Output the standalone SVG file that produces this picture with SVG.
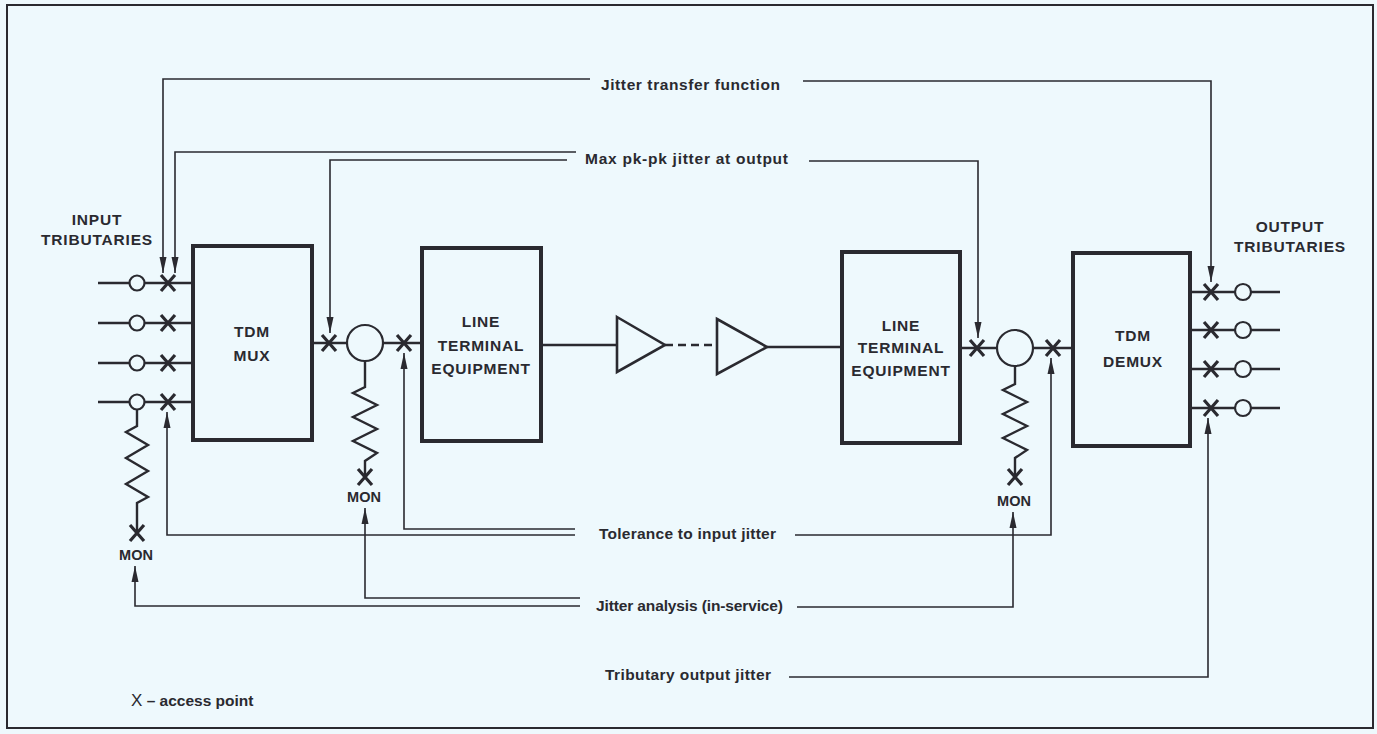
<svg xmlns="http://www.w3.org/2000/svg" width="1377" height="734" viewBox="0 0 1377 734">
<style>
.ln{stroke:#2a2a30;stroke-width:1.6;fill:none}
.sig{stroke:#2a2a30;stroke-width:2.6;fill:none}
.box{stroke:#2a2a30;stroke-width:4;fill:none}
.amp{stroke:#2a2a30;stroke-width:2.6;fill:none;stroke-linejoin:miter}
.node{stroke:#2a2a30;stroke-width:2.2;fill:#eef9fd}
.zz{stroke:#2a2a30;stroke-width:2.4;fill:none;stroke-linejoin:miter}
.lbl{font-family:"Liberation Sans",Arial,sans-serif;font-weight:bold;font-size:15.5px;fill:#2a2a30}
.blk{font-family:"Liberation Sans",Arial,sans-serif;font-weight:bold;font-size:15.5px;fill:#2a2a30;text-anchor:middle;letter-spacing:0.8px}
.mon{font-family:"Liberation Sans",Arial,sans-serif;font-weight:bold;font-size:14.5px;fill:#2a2a30;text-anchor:middle}
</style>
<defs>
<marker id="ah" viewBox="0 0 16 8" refX="16" refY="4" markerWidth="16" markerHeight="8" markerUnits="userSpaceOnUse" orient="auto">
<path d="M0,0.5 L16,4 L0,7.5 z" fill="#2a2a30"/>
</marker>
<g id="xm"><path d="M-7,-8 L7,8 M7,-8 L-7,8" stroke="#2a2a30" stroke-width="3.2" fill="none"/></g>
</defs>
<rect x="0" y="0" width="1377" height="734" fill="#eef9fd"/>
<rect x="7" y="5" width="1366" height="723" fill="none" stroke="#2a2a30" stroke-width="2"/>

<g id="input-tributaries">
<text class="blk" x="97" y="225">INPUT</text>
<text class="blk" x="97" y="245">TRIBUTARIES</text>
<path class="sig" d="M98,283 H193 M98,323 H193 M98,363 H193 M98,402 H193"/>
<circle class="node" cx="137" cy="283" r="7.5"/>
<circle class="node" cx="137" cy="323" r="7.5"/>
<circle class="node" cx="137" cy="363" r="7.5"/>
<circle class="node" cx="137" cy="402" r="7.5"/>
<use href="#xm" x="168" y="283"/>
<use href="#xm" x="168" y="323"/>
<use href="#xm" x="168" y="363"/>
<use href="#xm" x="168" y="402"/>
</g>

<g id="mon-left">
<path class="zz" d="M137,409.5 V426 L126,432 L148,445 L126,458 L148,471 L126,484 L148,497 L137,503 V533"/>
<use href="#xm" x="137" y="533"/>
<text class="mon" x="136" y="560">MON</text>
</g>

<g id="tdm-mux">
<rect class="box" x="193" y="246" width="119" height="194"/>
<text class="blk" x="252" y="337">TDM</text>
<text class="blk" x="252" y="361">MUX</text>
</g>

<g id="link-mux-lte">
<path class="sig" d="M312,343 H422"/>
<use href="#xm" x="329" y="343"/>
<circle class="node" cx="365" cy="343" r="18"/>
<use href="#xm" x="404" y="343"/>
</g>

<g id="mon-center">
<path class="zz" d="M365,361 V387 L353,393 L377,405 L353,417 L377,429 L353,441 L377,453 L365,461 V477"/>
<use href="#xm" x="365" y="477"/>
<text class="mon" x="364" y="502">MON</text>
</g>

<g id="lte-left">
<rect class="box" x="422" y="248" width="119" height="193"/>
<text class="blk" x="481" y="327">LINE</text>
<text class="blk" x="481" y="351">TERMINAL</text>
<text class="blk" x="481" y="374">EQUIPMENT</text>
</g>

<g id="line-section">
<path class="sig" d="M541,345 H617"/>
<path class="sig" d="M665,345 H717" stroke-dasharray="8,5"/>
<path class="sig" d="M767,347 H842"/>
</g>

<g id="amp-1">
<path class="amp" d="M617,317 L665,345 L617,372 Z"/>
</g>
<g id="amp-2">
<path class="amp" d="M717,319 L767,347 L717,374 Z"/>
</g>

<g id="lte-right">
<rect class="box" x="842" y="252" width="118" height="191"/>
<text class="blk" x="901" y="331">LINE</text>
<text class="blk" x="901" y="353">TERMINAL</text>
<text class="blk" x="901" y="376">EQUIPMENT</text>
</g>

<g id="link-lte-demux">
<path class="sig" d="M960,348 H1073"/>
<use href="#xm" x="977" y="348"/>
<circle class="node" cx="1015" cy="348" r="18"/>
<use href="#xm" x="1053" y="348"/>
</g>

<g id="mon-right">
<path class="zz" d="M1015,366 V384 L1003,390 L1027,402 L1003,414 L1027,426 L1003,438 L1027,450 L1015,458 V477"/>
<use href="#xm" x="1015" y="477"/>
<text class="mon" x="1014" y="506">MON</text>
</g>

<g id="tdm-demux">
<rect class="box" x="1073" y="253" width="117" height="193"/>
<text class="blk" x="1133" y="341">TDM</text>
<text class="blk" x="1133" y="367">DEMUX</text>
</g>

<g id="output-tributaries">
<text class="blk" x="1290" y="232">OUTPUT</text>
<text class="blk" x="1290" y="252">TRIBUTARIES</text>
<path class="sig" d="M1190,292 H1280 M1190,330 H1280 M1190,369 H1280 M1190,408 H1280"/>
<use href="#xm" x="1211" y="292"/>
<use href="#xm" x="1211" y="330"/>
<use href="#xm" x="1211" y="369"/>
<use href="#xm" x="1211" y="408"/>
<circle class="node" cx="1243" cy="292" r="8"/>
<circle class="node" cx="1243" cy="330" r="8"/>
<circle class="node" cx="1243" cy="369" r="8"/>
<circle class="node" cx="1243" cy="408" r="8"/>
</g>

<g id="connectors">
<path class="ln" marker-end="url(#ah)" d="M590,79 H163 V273"/>
<path class="ln" marker-end="url(#ah)" d="M803,81 H1211 V282"/>
<path class="ln" marker-end="url(#ah)" d="M576,152 H175 V273"/>
<path class="ln" marker-end="url(#ah)" d="M567,160 H330 V333"/>
<path class="ln" marker-end="url(#ah)" d="M809,161 H978 V338"/>
<path class="ln" marker-end="url(#ah)" d="M575,529 H404 V353"/>
<path class="ln" marker-end="url(#ah)" d="M575,535 H167 V412"/>
<path class="ln" marker-end="url(#ah)" d="M795,535 H1051 V358"/>
<path class="ln" marker-end="url(#ah)" d="M580,598 H365 V508"/>
<path class="ln" marker-end="url(#ah)" d="M580,606 H135 V566"/>
<path class="ln" marker-end="url(#ah)" d="M797,607 H1013 V512"/>
<path class="ln" marker-end="url(#ah)" d="M789,677 H1208 V418"/>
</g>

<g id="labels">
<text class="lbl" x="601" y="90" textLength="179">Jitter transfer function</text>
<text class="lbl" x="585" y="164" textLength="203">Max pk-pk jitter at output</text>
<text class="lbl" x="599" y="539" textLength="177">Tolerance to input jitter</text>
<text class="lbl" x="596" y="611" textLength="187">Jitter analysis (in-service)</text>
<text class="lbl" x="605" y="680" textLength="166">Tributary output jitter</text>
<text class="lbl" x="131" y="706"><tspan font-weight="normal" font-size="17">X</tspan> – access point</text>
</g>
</svg>
